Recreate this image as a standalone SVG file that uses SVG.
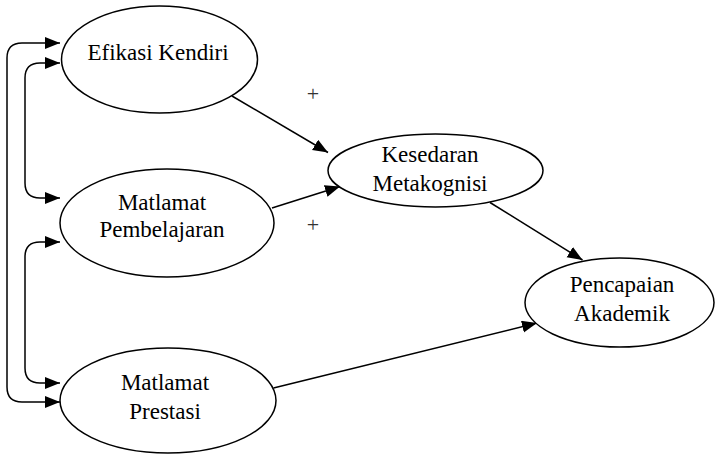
<svg xmlns="http://www.w3.org/2000/svg" width="715" height="456" viewBox="0 0 715 456">
<style>
.node ellipse{fill:#fff;stroke:#000;stroke-width:1.5}
.node text,.lbl{font-family:"Liberation Serif","Times New Roman",serif;font-size:23px;fill:#000;text-anchor:middle}
.lbl{font-size:22px;fill:#333}
.edge{fill:none;stroke:#000;stroke-width:1.5}
</style>
<defs>
<marker id="ah" markerUnits="userSpaceOnUse" markerWidth="16" markerHeight="13" refX="15" refY="6" orient="auto-start-reverse">
<path d="M0,0 L15,6 L0,12 z" fill="#000"/>
</marker>
</defs>
<rect width="715" height="456" fill="#fff"/>
<g id="connectors">
<path class="edge" d="M60,43 H22 Q7,43 7,58 V387 Q7,402 22,402 H60" marker-start="url(#ah)" marker-end="url(#ah)"/>
<path class="edge" d="M60,63 H40 Q25,63 25,78 V183 Q25,198 40,198 H60" marker-start="url(#ah)" marker-end="url(#ah)"/>
<path class="edge" d="M60,242 H40 Q25,242 25,257 V368 Q25,383 40,383 H60" marker-start="url(#ah)" marker-end="url(#ah)"/>
<path class="edge" d="M232,96 L328,152.5" marker-end="url(#ah)"/>
<path class="edge" d="M272,208 L340,186.5" marker-end="url(#ah)"/>
<path class="edge" d="M490,202.5 L582.5,260" marker-end="url(#ah)"/>
<path class="edge" d="M273.5,388 L537,323" marker-end="url(#ah)"/>
</g>
<g id="efikasi" class="node">
<ellipse cx="159.5" cy="59.5" rx="98" ry="53.5"/>
<text x="158" y="60">Efikasi Kendiri</text>
</g>
<g id="pembelajaran" class="node">
<ellipse cx="167" cy="223" rx="107" ry="54"/>
<text x="162" y="210">Matlamat</text>
<text x="162" y="237">Pembelajaran</text>
</g>
<g id="prestasi" class="node">
<ellipse cx="168" cy="400.5" rx="108" ry="52.5"/>
<text x="165" y="390">Matlamat</text>
<text x="165" y="419">Prestasi</text>
</g>
<g id="kesedaran" class="node">
<ellipse cx="435.5" cy="170.5" rx="107.5" ry="36.5"/>
<text x="430" y="162">Kesedaran</text>
<text x="430" y="191">Metakognisi</text>
</g>
<g id="pencapaian" class="node">
<ellipse cx="619.5" cy="302.5" rx="94.5" ry="44.5"/>
<text x="622" y="292">Pencapaian</text>
<text x="622" y="321">Akademik</text>
</g>
<text class="lbl" x="313" y="101">+</text>
<text class="lbl" x="313" y="231.5">+</text>
</svg>
